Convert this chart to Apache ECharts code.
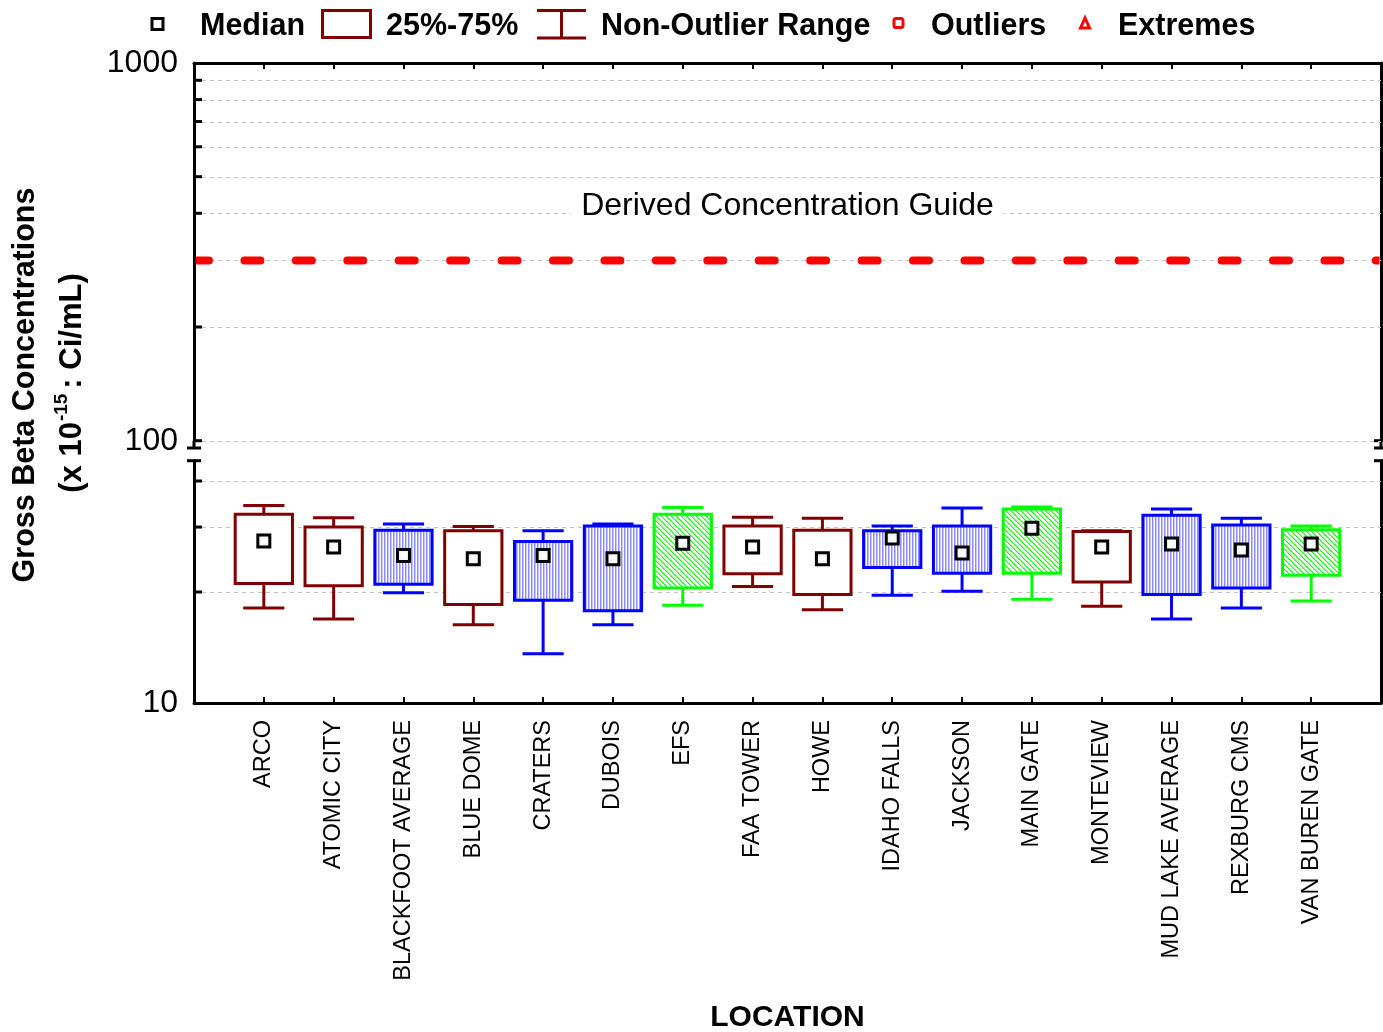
<!DOCTYPE html>
<html>
<head>
<meta charset="utf-8">
<script src="https://cdn.jsdelivr.net/npm/echarts/dist/echarts.min.js"></script>
<style>
  html, body { margin: 0; padding: 0; background: #fff; }
  #chart { width: 1383px; height: 1032px; }
</style>
</head>
<body>
<div id="chart"></div>
<script>
// Gross beta concentrations by sampling location (x 10^-15 Ci/mL)
const categories = ['ARCO', 'ATOMIC CITY', 'BLACKFOOT AVERAGE', 'BLUE DOME', 'CRATERS', 'DUBOIS', 'EFS',
  'FAA TOWER', 'HOWE', 'IDAHO FALLS', 'JACKSON', 'MAIN GATE', 'MONTEVIEW', 'MUD LAKE AVERAGE',
  'REXBURG CMS', 'VAN BUREN GATE'];
const whiskerLow  = [18.1, 16.9, 19.9, 16.3, 13.6, 16.3, 18.4, 20.7, 17.9, 19.6, 20.1, 19.1, 18.3, 16.9, 18.1, 18.9];
const quartile1   = [21.1, 20.8, 21.0, 18.5, 19.0, 17.8, 20.5, 22.4, 19.7, 23.3, 22.5, 22.5, 21.3, 19.7, 20.5, 22.2];
const medians     = [27.5, 26.5, 25.1, 24.6, 25.1, 24.6, 27.1, 26.5, 24.6, 28.0, 25.5, 29.8, 26.5, 27.0, 26.0, 27.0];
const quartile3   = [32.5, 30.0, 29.4, 29.3, 27.4, 30.2, 32.5, 30.2, 29.4, 29.3, 30.2, 33.6, 29.2, 32.3, 30.4, 29.5];
const whiskerHigh = [34.3, 31.8, 30.6, 30.1, 29.3, 30.6, 33.9, 31.9, 31.7, 30.2, 33.8, 34.0, 29.3, 33.6, 31.7, 30.2];
// station group: drawn as plain, blue striped or green hatched boxes
const boxKind = ['plain', 'plain', 'blue', 'plain', 'blue', 'blue', 'green', 'plain', 'plain', 'blue',
  'blue', 'green', 'plain', 'blue', 'blue', 'green'];

const guideValue = 300;           // Derived Concentration Guide
const guideLabel = 'Derived Concentration Guide';
const upperRange = [100, 1000];   // upper panel of the broken axis
const lowerRange = [10, 45.4];    // lower panel of the broken axis
const upperGridValues = [100, 200, 300, 400, 500, 600, 700, 800, 900];
const lowerGridValues = [20, 30, 40];
const upperTickLabels = [100, 1000];
const lowerTickLabels = [10];

const FONT = '"Liberation Sans", Arial, sans-serif';

// layout of the two panels
const L = 194, R = 1381, W = 1383;
const upperTop = 63, upperBottom = 440.7;
const lowerTop = 460.7, lowerBottom = 703;
const breakEnd = 448;

function stripePattern() {
  const c = document.createElement('canvas');
  c.width = 3; c.height = 1;
  const g = c.getContext('2d');
  g.fillStyle = '#ffffff'; g.fillRect(0, 0, 3, 1);
  g.fillStyle = '#8a8aff'; g.fillRect(0, 0, 1, 1);
  g.fillStyle = '#c6c6ff'; g.fillRect(1, 0, 1, 1);
  return { image: c, repeat: 'repeat' };
}
function hatchPattern() {
  const n = 5;
  const c = document.createElement('canvas');
  c.width = n; c.height = n;
  const g = c.getContext('2d');
  g.fillStyle = '#ffffff'; g.fillRect(0, 0, n, n);
  for (let i = 0; i < n; i++) {
    g.fillStyle = '#00ff00'; g.fillRect(i, i, 1, 1);
    g.fillStyle = '#9cff9c'; g.fillRect((i + 1) % n, i, 1, 1);
  }
  return { image: c, repeat: 'repeat' };
}
const kindStyle = {
  plain: { stroke: '#800000', fill: '#ffffff' },
  blue:  { stroke: '#0000ff', fill: stripePattern() },
  green: { stroke: '#00ff00', fill: hatchPattern() }
};

function renderBox(params, api) {
  const x = api.value(0);
  const lo = api.coord([x, api.value(1)]);
  const q1 = api.coord([x, api.value(2)]);
  const q3 = api.coord([x, api.value(4)]);
  const hi = api.coord([x, api.value(5)]);
  const band = api.size([1, 0])[0];
  const boxHalf = band * 0.41, capHalf = band * 0.295;
  const k = kindStyle[boxKind[params.dataIndex]];
  const ls = () => ({ stroke: k.stroke, lineWidth: 3, fill: null });
  return {
    type: 'group',
    children: [
      { type: 'line', shape: { x1: hi[0], y1: hi[1], x2: q3[0], y2: q3[1] }, style: ls() },
      { type: 'line', shape: { x1: hi[0] - capHalf, y1: hi[1], x2: hi[0] + capHalf, y2: hi[1] }, style: ls() },
      { type: 'line', shape: { x1: q1[0], y1: q1[1], x2: lo[0], y2: lo[1] }, style: ls() },
      { type: 'line', shape: { x1: lo[0] - capHalf, y1: lo[1], x2: lo[0] + capHalf, y2: lo[1] }, style: ls() },
      { type: 'rect', shape: { x: q3[0] - boxHalf, y: q3[1], width: boxHalf * 2, height: q1[1] - q3[1] },
        style: { fill: k.fill, stroke: k.stroke, lineWidth: 3 } }
    ]
  };
}

// dashed grid line across the panel plus an inward tick on the left axis
function renderGuides(params, api) {
  const p = api.coord([0, api.value(1)]);
  const cs = params.coordSys;
  const y = Math.round(p[1]) + 0.5;
  return {
    type: 'group',
    children: [
      { type: 'line', shape: { x1: cs.x, y1: y, x2: cs.x + cs.width, y2: y },
        style: { stroke: '#c4c4c4', lineWidth: 1, lineDash: [4, 4] } },
      { type: 'line', shape: { x1: cs.x, y1: p[1], x2: cs.x + 8, y2: p[1] },
        style: { stroke: '#000', lineWidth: 3 } }
    ]
  };
}

// heavy red dashed guide line, clipped to the panel, with its caption above
function renderGuideLine(params, api) {
  const v = api.value(0);
  const cs = params.coordSys;
  const a = api.coord([0, v]);
  const b = api.coord([categories.length + 1, v]);
  const mid = api.coord([(categories.length + 1) / 2, v]);
  return {
    type: 'group',
    children: [
      { type: 'line', shape: { x1: a[0] - 1, y1: a[1], x2: b[0], y2: b[1] },
        style: { stroke: '#ff0000', lineWidth: 8, lineCap: 'round', lineDash: [16, 35.43], lineDashOffset: 0 },
        clipPath: { type: 'rect', shape: { x: cs.x + 1.5, y: cs.y, width: cs.width - 3, height: cs.height } } },
      { type: 'text', x: mid[0], y: mid[1] - 54,
        style: { text: guideLabel, font: '32px ' + FONT, fill: '#000', align: 'center', verticalAlign: 'middle',
          backgroundColor: '#fff', padding: [0, 10], lineHeight: 36 } }
    ]
  };
}

const medianFill = {
  type: 'radial', x: 0.5, y: 0.5, r: 0.7,
  colorStops: [{ offset: 0, color: '#ffffff' }, { offset: 0.55, color: '#f2f2f2' }, { offset: 1, color: '#8c8c8c' }]
};

const axisLineStyle = { color: '#000', width: 3 };

function xAxisFor(gridIndex, position) {
  const bottom = position === 'bottom';
  return {
    gridIndex, type: 'value', min: 0, max: categories.length + 1, interval: 1, position,
    axisLine: { show: true, onZero: false, lineStyle: axisLineStyle },
    axisTick: { show: true, inside: true, length: 6, lineStyle: { color: '#000', width: 2 } },
    splitLine: { show: false },
    axisLabel: bottom ? {
      show: true, rotate: 90, margin: 17, fontSize: 23.5, color: '#000', fontFamily: FONT,
      formatter: v => categories[v - 1] || ''
    } : { show: false },
    name: bottom ? 'LOCATION' : '',
    nameLocation: 'middle', nameGap: 300,
    nameTextStyle: { fontSize: 30, fontWeight: 'bold', color: '#000', fontFamily: FONT }
  };
}
function yAxisFor(gridIndex, range, labels, position) {
  const left = position === 'left';
  return {
    gridIndex, type: 'log', logBase: 10, min: range[0], max: range[1], position,
    axisLine: { show: true, lineStyle: axisLineStyle },
    axisTick: { show: false },
    splitLine: { show: false },
    minorTick: { show: false }, minorSplitLine: { show: false },
    axisLabel: left ? {
      show: true, margin: 16, fontSize: 32, color: '#000', fontFamily: FONT,
      showMinLabel: true, showMaxLabel: true,
      formatter: v => {
        const r = Math.round(v);
        return labels.indexOf(r) >= 0 && Math.abs(v - r) < 1e-6 * r ? String(r) : '';
      }
    } : { show: false }
  };
}

const legendFont = 'bold 30.5px ' + FONT;
const legendY = 26.5;
const graphic = [
  // legend
  { type: 'rect', shape: { x: 152, y: 18.5, width: 11, height: 11 },
    style: { fill: medianFill, stroke: '#000', lineWidth: 3 } },
  { type: 'text', x: 200, y: legendY, style: { text: 'Median', font: legendFont, fill: '#000', verticalAlign: 'middle' } },
  { type: 'rect', shape: { x: 322.5, y: 10.5, width: 48, height: 27 },
    style: { fill: 'none', stroke: '#800000', lineWidth: 3 } },
  { type: 'text', x: 386, y: legendY, style: { text: '25%-75%', font: legendFont, fill: '#000', verticalAlign: 'middle' } },
  { type: 'line', shape: { x1: 537, y1: 10.5, x2: 586, y2: 10.5 }, style: { stroke: '#800000', lineWidth: 3 } },
  { type: 'line', shape: { x1: 537, y1: 38, x2: 586, y2: 38 }, style: { stroke: '#800000', lineWidth: 3 } },
  { type: 'line', shape: { x1: 561.5, y1: 10.5, x2: 561.5, y2: 38 }, style: { stroke: '#800000', lineWidth: 3 } },
  { type: 'text', x: 601, y: legendY, style: { text: 'Non-Outlier Range', font: legendFont, fill: '#000', verticalAlign: 'middle' } },
  { type: 'rect', shape: { x: 894, y: 18.5, width: 9, height: 9, r: 2 },
    style: { fill: '#fff', stroke: '#ff0000', lineWidth: 3 } },
  { type: 'text', x: 931, y: legendY, style: { text: 'Outliers', font: legendFont, fill: '#000', verticalAlign: 'middle' } },
  { type: 'polygon', shape: { points: [[1085, 18], [1080.5, 28], [1089.5, 28]] },
    style: { fill: '#fff', stroke: '#ff0000', lineWidth: 3 } },
  { type: 'text', x: 1118, y: legendY, style: { text: 'Extremes', font: legendFont, fill: '#000', verticalAlign: 'middle' } },

  // y axis title
  { type: 'text', x: 26, y: 385, rotation: Math.PI / 2,
    style: { text: 'Gross Beta Concentrations', font: 'bold 30.5px ' + FONT, fill: '#000', align: 'center', verticalAlign: 'middle' } },
  { type: 'text', x: 70, y: 383, rotation: Math.PI / 2,
    style: {
      text: '{a|(x 10}{s|-15}{a|: Ci/mL)}', align: 'center', verticalAlign: 'middle',
      rich: {
        a: { font: 'bold 31px ' + FONT, fill: '#000', lineHeight: 36, verticalAlign: 'bottom' },
        s: { font: 'bold 19px ' + FONT, fill: '#000', lineHeight: 36, verticalAlign: 'top', padding: [0, 5, 0, 1] }
      }
    } },

  // axis break marks
  { type: 'line', shape: { x1: L, y1: upperBottom, x2: L, y2: breakEnd }, style: { stroke: '#000', lineWidth: 3 } },
  { type: 'line', shape: { x1: L - 7, y1: breakEnd, x2: L + 7, y2: breakEnd }, style: { stroke: '#000', lineWidth: 3 } },
  { type: 'line', shape: { x1: L - 7, y1: lowerTop, x2: L + 7, y2: lowerTop }, style: { stroke: '#000', lineWidth: 3 } },
  { type: 'line', shape: { x1: R, y1: upperBottom, x2: R, y2: breakEnd }, style: { stroke: '#000', lineWidth: 3 } },
  { type: 'line', shape: { x1: R - 7, y1: upperBottom, x2: R, y2: upperBottom }, style: { stroke: '#000', lineWidth: 3 } },
  { type: 'line', shape: { x1: R - 7, y1: breakEnd, x2: R + 2, y2: breakEnd }, style: { stroke: '#000', lineWidth: 3 } },
  { type: 'line', shape: { x1: R - 7, y1: lowerTop, x2: R + 2, y2: lowerTop }, style: { stroke: '#000', lineWidth: 3 } }
];

const boxData = categories.map((c, i) => [i + 1, whiskerLow[i], quartile1[i], medians[i], quartile3[i], whiskerHigh[i]]);
const medianData = categories.map((c, i) => [i + 1, medians[i]]);

const option = {
  animation: false,
  backgroundColor: '#fff',
  textStyle: { fontFamily: FONT },
  grid: [
    { left: L, right: W - R, top: upperTop, height: upperBottom - upperTop, containLabel: false, outerBoundsMode: 'none' },
    { left: L, right: W - R, top: lowerTop, height: lowerBottom - lowerTop, containLabel: false, outerBoundsMode: 'none' }
  ],
  xAxis: [xAxisFor(0, 'top'), xAxisFor(1, 'bottom')],
  yAxis: [
    yAxisFor(0, upperRange, upperTickLabels, 'left'),
    yAxisFor(1, lowerRange, lowerTickLabels, 'left'),
    yAxisFor(0, upperRange, [], 'right'),
    yAxisFor(1, lowerRange, [], 'right')
  ],
  graphic,
  series: [
    { type: 'custom', name: 'grid-upper', xAxisIndex: 0, yAxisIndex: 0, silent: true, z: 1,
      renderItem: renderGuides, encode: { x: 0, y: 1 },
      data: upperGridValues.map(v => [0, v]) },
    { type: 'custom', name: 'grid-lower', xAxisIndex: 1, yAxisIndex: 1, silent: true, z: 1,
      renderItem: renderGuides, encode: { x: 0, y: 1 },
      data: lowerGridValues.map(v => [0, v]) },
    { type: 'custom', name: guideLabel, xAxisIndex: 0, yAxisIndex: 0, silent: true, z: 5,
      renderItem: renderGuideLine, encode: { y: 0 }, data: [[guideValue]] },
    { type: 'custom', name: 'Non-Outlier Range', xAxisIndex: 1, yAxisIndex: 1, z: 3,
      renderItem: renderBox, encode: { x: 0, y: [1, 2, 3, 4, 5] }, data: boxData },
    { type: 'scatter', name: 'Median', xAxisIndex: 1, yAxisIndex: 1, z: 4,
      symbol: 'rect', symbolSize: 12,
      itemStyle: { color: medianFill, borderColor: '#000', borderWidth: 3, opacity: 1 },
      data: medianData }
  ]
};

const chart = echarts.init(document.getElementById('chart'), null, { renderer: 'canvas' });
chart.setOption(option);
</script>
</body>
</html>
